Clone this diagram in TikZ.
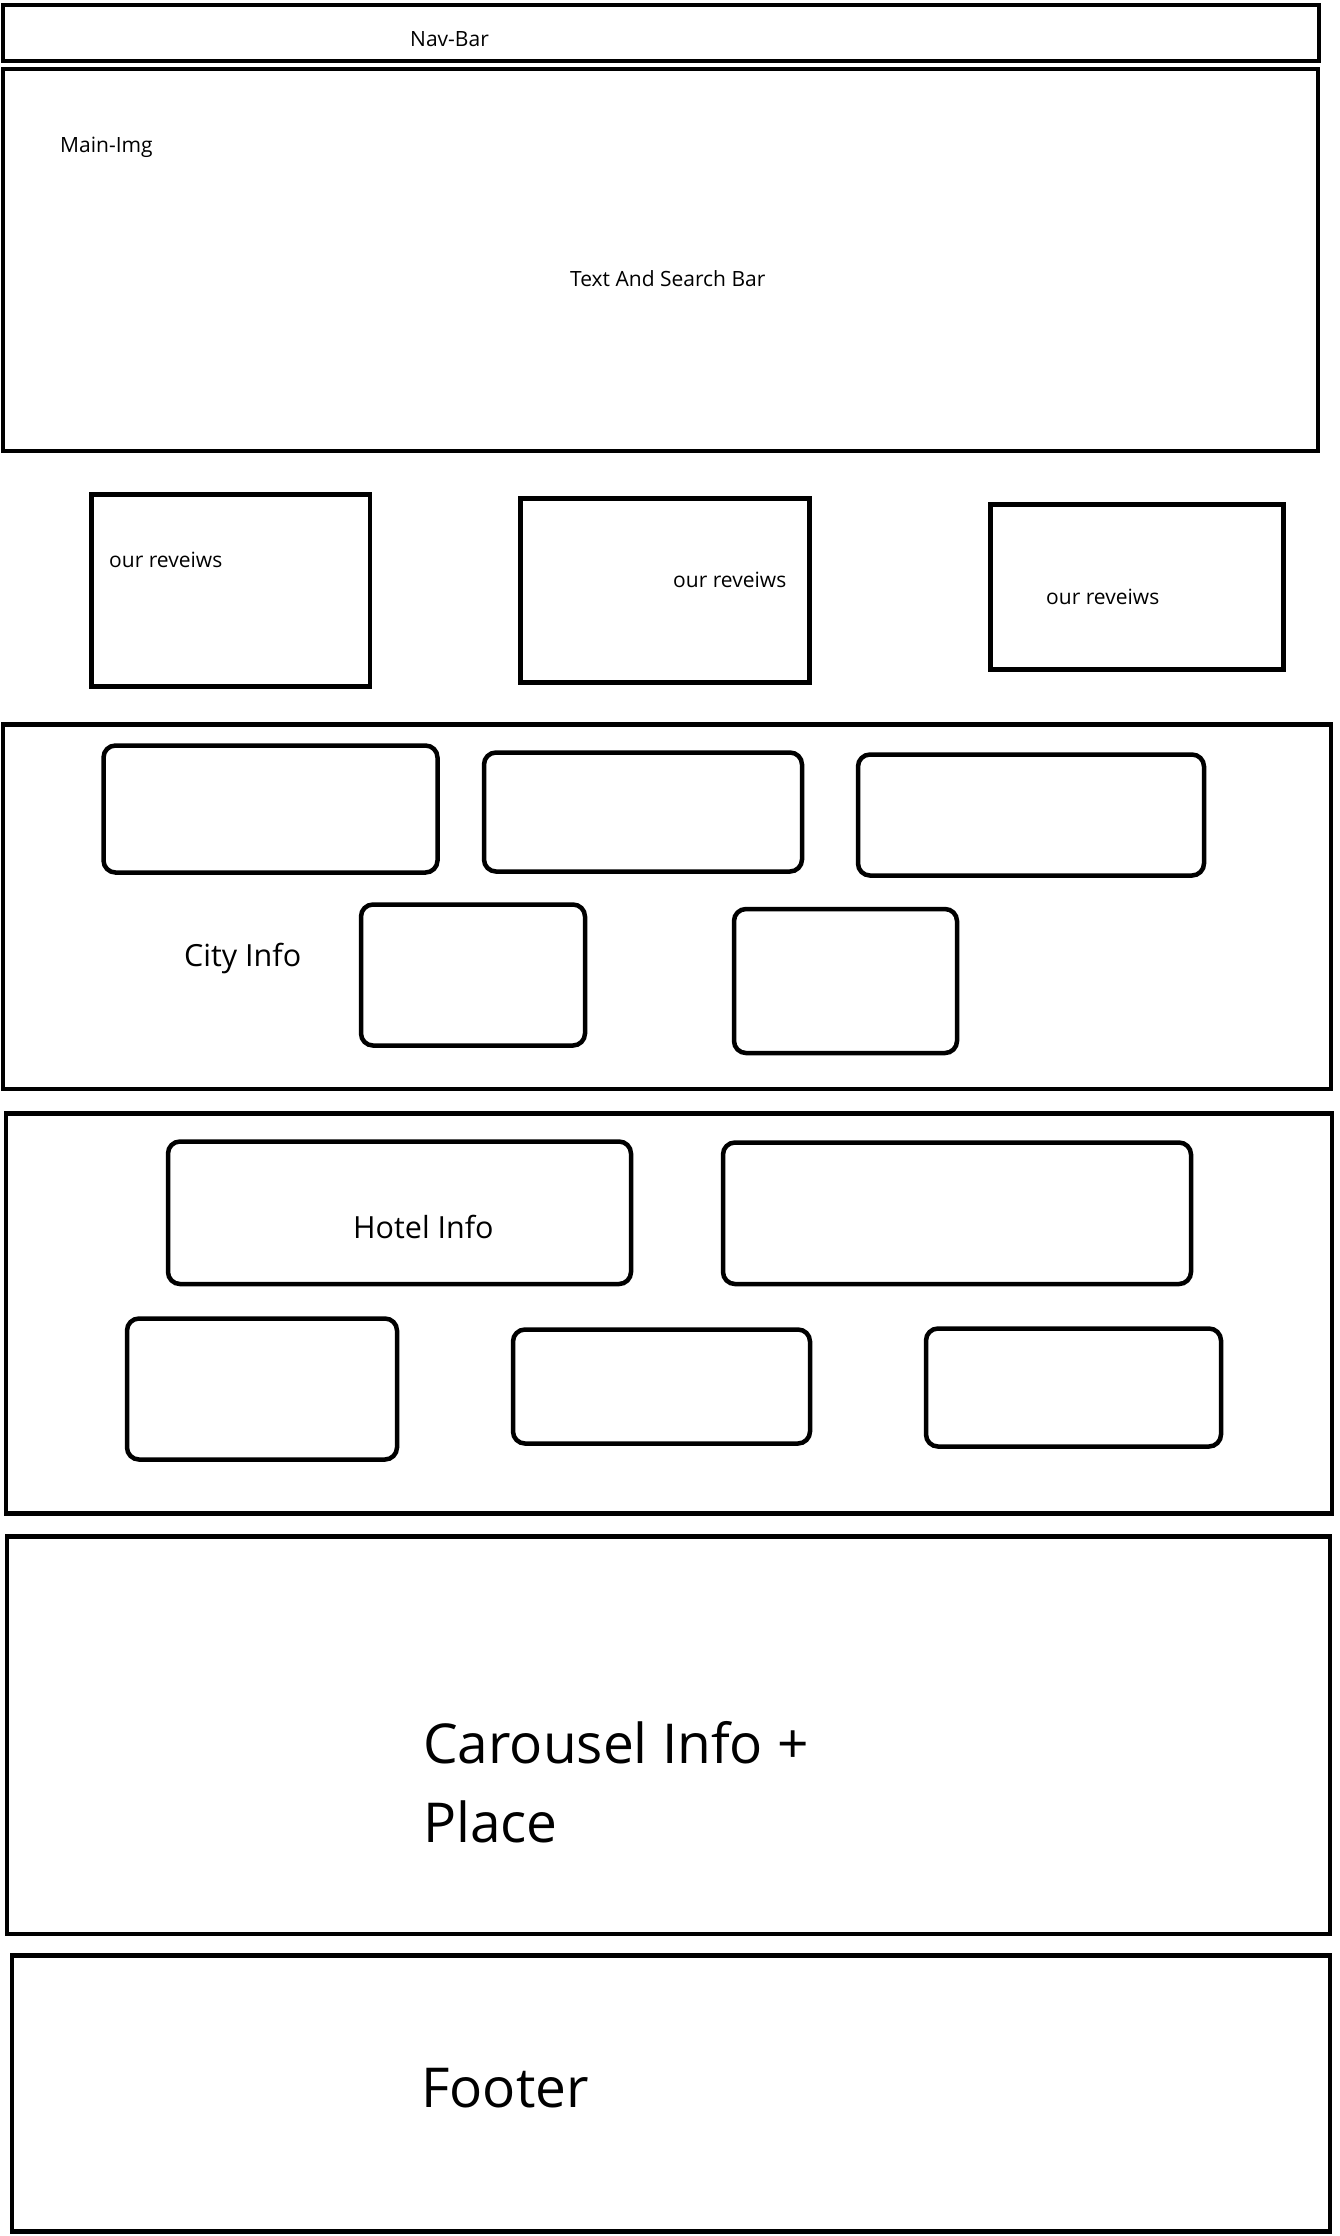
\documentclass[tikz,border=0pt]{standalone}
\usepackage{fontspec}
\setmainfont{Open Sans}
\begin{document}
\begin{tikzpicture}[x=1pt, y=-1pt,
    frame/.style={line width=4.5pt},
    card/.style={line width=4.5pt, rounded corners=12pt},
    lbl/.style={anchor=base west, inner sep=0pt, font=\fontsize{21}{25}\selectfont},
    midlbl/.style={lbl, font=\fontsize{30.5}{36}\selectfont},
    biglbl/.style={lbl, font=\fontsize{55}{66}\selectfont}]

        \useasboundingbox (0,0) rectangle (1340,2236);

        % Nav bar
        \draw[frame] (3,5) rectangle (1319,61);
        \node[lbl] (nav) at (410,46) {Nav-Bar};

        % Main image with search
        \draw[frame] (3,69) rectangle (1318,451);
        \node[lbl] (mainimg) at (60,152) {Main-Img};
        \node[lbl] (search) at (570,286) {Text And Search Bar};

        % Reviews
        \draw[frame] (91.5,494.5) rectangle (370,686.5);
        \draw[frame] (520.5,498.5) rectangle (809.5,682.5);
        \draw[frame] (990.5,504.5) rectangle (1283.5,669.5);
        \node[lbl] (reviewa) at (109,567) {our reveiws};
        \node[lbl] (reviewb) at (673,587) {our reveiws};
        \node[lbl] (reviewc) at (1046,604) {our reveiws};

        % City info
        \draw[frame] (3,724.5) rectangle (1331,1089);
        \draw[card] (103.5,745.5) rectangle (437.5,872.5);
        \draw[card] (484,752.5) rectangle (802,871.5);
        \draw[card] (858,754.5) rectangle (1204,875.5);
        \draw[card] (361,904.5) rectangle (585,1045.5);
        \draw[card] (734,909) rectangle (957,1053);
        \node[midlbl] (city) at (184,966) {City Info};

        % Hotel info
        \draw[frame] (6,1113.5) rectangle (1332,1513.5);
        \draw[card] (168,1141.5) rectangle (631,1284);
        \draw[card] (723,1142.5) rectangle (1191,1284);
        \draw[card] (127,1318.5) rectangle (397,1459.5);
        \draw[card] (513,1329.5) rectangle (810,1443.5);
        \draw[card] (926,1328.5) rectangle (1221,1446.5);
        \node[midlbl] (hotel) at (353,1238) {Hotel Info};

        % Carousel
        \draw[frame] (7,1536.5) rectangle (1330,1934);
        \node[biglbl] (carousel) at (423,1763) {Carousel Info +};
        \node[biglbl] (place) at (423,1842) {Place};

        % Footer
        \draw[frame] (12,1955.5) rectangle (1330,2231.5);
        \node[biglbl] (footer) at (421,2107) {Footer};

    \end{tikzpicture}
\end{document}
